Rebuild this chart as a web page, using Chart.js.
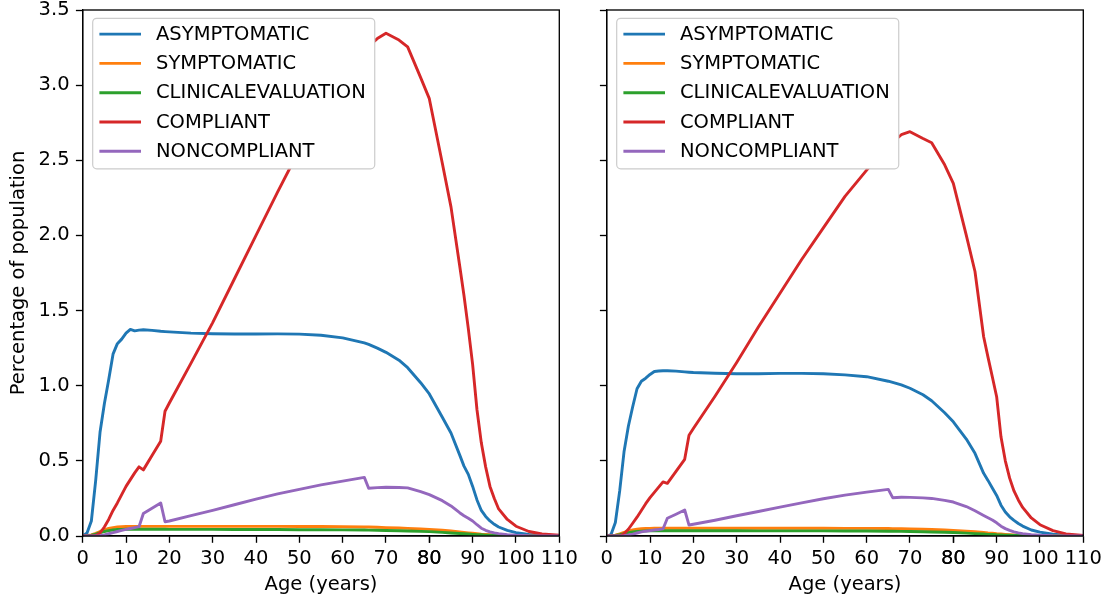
<!DOCTYPE html>
<html><head><meta charset="utf-8">
<script src="https://cdn.jsdelivr.net/npm/chart.js@4/dist/chart.umd.min.js"></script>
<style>
html,body{margin:0;padding:0;background:#fff;width:1107px;height:604px;overflow:hidden}
.c{position:absolute;top:0;height:604px}
#w1{left:0;width:585px}
#w2{left:585px;width:522px}
</style></head><body>
<div class="c" id="w1"><canvas id="c1" width="585" height="604"></canvas></div>
<div class="c" id="w2"><canvas id="c2" width="522" height="604"></canvas></div>
<script>
// ---- data ----
const ages = [0,1,2,3,4,5,6,7,8,9,10,11,12,13,14, 16,18,19,20, 25,30,35,40,45,50,55,60,65,
  66,68,70,73,75,78,80,83,85, 87,88,89,90,91,92,93,94,95,96, 98,100,103,106,110];
const seriesNames = ['ASYMPTOMATIC','SYMPTOMATIC','CLINICALEVALUATION','COMPLIANT','NONCOMPLIANT'];
const seriesColors = ['#1f77b4','#ff7f0e','#2ca02c','#d62728','#9467bd'];
const xTicks = [0,10,20,30,40,50,60,70,80,90,100,110];
const xTicksRepeated = [80];
const yTicks = [0,0.5,1.0,1.5,2.0,2.5,3.0,3.5];
const xLabel = 'Age (years)';
const yLabel = 'Percentage of population';

const leftAsym = [0,0.02,0.1,0.37,0.69,0.88,1.04,1.21,1.28,1.31,1.35,1.375,1.365,1.37,1.372,
  1.368,1.362,1.36,1.358, 1.35,1.346,1.344,1.344,1.345,1.343,1.336,1.318,1.285,
  1.275,1.25,1.222,1.17,1.12,1.02,0.945,0.79,0.685, 0.54,0.465,0.41,0.33,0.24,0.17,0.13,0.1,0.078,0.06,
  0.037,0.022,0.01,0.004,0];
const leftSymp = [0,0.002,0.008,0.018,0.03,0.04,0.05,0.056,0.06,0.062,0.063,0.064,0.064,0.064,0.064,
  0.064,0.064,0.064,0.064, 0.064,0.064,0.064,0.064,0.064,0.063,0.063,0.062,0.06,
  0.06,0.058,0.056,0.053,0.051,0.047,0.044,0.038,0.033, 0.027,0.024,0.021,0.018,0.015,0.012,0.01,0.008,0.006,0.004,
  0.002,0.001,0,0,0];
const leftClin = [0,0.002,0.006,0.013,0.022,0.03,0.036,0.04,0.043,0.044,0.045,0.045,0.045,0.045,0.045,
  0.045,0.045,0.045,0.044, 0.044,0.044,0.043,0.043,0.043,0.042,0.042,0.041,0.04,
  0.039,0.038,0.037,0.035,0.033,0.031,0.029,0.024,0.02, 0.017,0.015,0.013,0.011,0.009,0.008,0.006,0.005,0.004,0.003,
  0.002,0.001,0,0,0];
const leftComp = [0,0,0,0.003,0.02,0.06,0.11,0.17,0.22,0.275,0.33,0.375,0.42,0.46,0.44,
  0.535,0.63,0.83,0.885, 1.15,1.42,1.71,2.0,2.29,2.57,2.83,3.05,3.23,
  3.26,3.31,3.345,3.3,3.255,3.05,2.91,2.48,2.19, 1.8,1.6,1.38,1.14,0.84,0.62,0.46,0.33,0.25,0.18,
  0.11,0.065,0.03,0.013,0.005];
const leftNon = [0,0,0,0,0.002,0.008,0.015,0.022,0.03,0.037,0.044,0.05,0.056,0.062,0.15,
  0.185,0.22,0.095,0.1, 0.135,0.17,0.208,0.245,0.28,0.31,0.34,0.365,0.39,
  0.318,0.322,0.324,0.323,0.32,0.295,0.275,0.235,0.2, 0.155,0.135,0.118,0.1,0.075,0.052,0.038,0.028,0.021,0.016,
  0.009,0.005,0.002,0.001,0];

const rightAsym = [0,0.01,0.09,0.3,0.56,0.73,0.86,0.98,1.03,1.05,1.075,1.095,1.098,1.1,1.1,
  1.097,1.092,1.09,1.088, 1.083,1.08,1.08,1.082,1.082,1.08,1.072,1.06,1.03,
  1.022,1.005,0.983,0.94,0.9,0.82,0.76,0.645,0.55, 0.417,0.37,0.32,0.27,0.205,0.16,0.128,0.104,0.083,0.066,
  0.04,0.026,0.012,0.005,0];
const rightSymp = [0,0.001,0.006,0.014,0.024,0.033,0.04,0.045,0.048,0.05,0.051,0.052,0.052,0.052,0.052,
  0.052,0.052,0.052,0.052, 0.052,0.052,0.052,0.052,0.052,0.052,0.051,0.051,0.05,
  0.049,0.048,0.047,0.045,0.043,0.04,0.037,0.032,0.028, 0.023,0.02,0.018,0.015,0.013,0.011,0.009,0.007,0.005,0.004,
  0.002,0.001,0,0,0];
const rightClin = [0,0.001,0.004,0.009,0.016,0.022,0.027,0.03,0.032,0.034,0.035,0.035,0.035,0.035,0.035,
  0.035,0.035,0.035,0.035, 0.035,0.035,0.034,0.034,0.034,0.034,0.033,0.033,0.032,
  0.032,0.031,0.03,0.028,0.027,0.025,0.023,0.019,0.016, 0.013,0.011,0.01,0.008,0.007,0.006,0.005,0.004,0.003,0.002,
  0.001,0.001,0,0,0];
const rightComp = [0,0,0,0,0.015,0.045,0.085,0.125,0.17,0.215,0.255,0.29,0.325,0.36,0.35,
  0.43,0.51,0.67,0.715, 0.93,1.155,1.39,1.615,1.84,2.05,2.26,2.435,2.595,
  2.62,2.67,2.69,2.645,2.617,2.47,2.347,2.0,1.76, 1.326,1.19,1.06,0.927,0.66,0.5,0.385,0.3,0.24,0.19,
  0.12,0.075,0.036,0.014,0.003];
const rightNon = [0,0,0,0,0.002,0.007,0.013,0.02,0.027,0.032,0.036,0.04,0.043,0.047,0.118,
  0.145,0.173,0.073,0.078, 0.105,0.135,0.163,0.192,0.22,0.248,0.272,0.292,0.31,
  0.255,0.258,0.257,0.254,0.25,0.237,0.226,0.196,0.168, 0.137,0.122,0.107,0.088,0.065,0.049,0.037,0.028,0.021,0.016,
  0.009,0.005,0.002,0.001,0];

// ---- styling ----
const FONT = 'DejaVu Sans';
const FS = 19.5;
const LW = 2.9;
const AX_LW = 1.33;
const TICK_LEN = 6.8;

function makeDatasets(series) {
  return series.map((vals, i) => ({
    label: seriesNames[i],
    data: ages.map((a, k) => ({x: a, y: vals[k]})),
    borderColor: seriesColors[i],
    backgroundColor: seriesColors[i],
    borderWidth: LW,
    borderJoinStyle: 'round',
    pointRadius: 0,
    fill: false,
    tension: 0,
    order: series.length - i
  }));
}

const framePlugin = {
  id: 'frame',
  afterDatasetsDraw(chart) {
    const {ctx, chartArea: a} = chart;
    ctx.save();
    ctx.strokeStyle = '#000';
    ctx.lineWidth = AX_LW;
    ctx.strokeRect(a.left, a.top, a.right - a.left, a.bottom - a.top);
    ctx.restore();
  }
};

const legendPlugin = {
  id: 'mplLegend',
  afterDraw(chart) {
    const {ctx, chartArea: a} = chart;
    ctx.save();
    ctx.font = FS + 'px "' + FONT + '"';
    const ds = chart.data.datasets;
    let maxW = 0;
    ds.forEach(d => { maxW = Math.max(maxW, ctx.measureText(d.label).width); });
    const x0 = a.left + 10, y0 = a.top + 8.3;
    const w = 63.3 + maxW + 9, h = 150.5, r = 4;
    ctx.beginPath();
    ctx.moveTo(x0 + r, y0);
    ctx.arcTo(x0 + w, y0, x0 + w, y0 + h, r);
    ctx.arcTo(x0 + w, y0 + h, x0, y0 + h, r);
    ctx.arcTo(x0, y0 + h, x0, y0, r);
    ctx.arcTo(x0, y0, x0 + w, y0, r);
    ctx.closePath();
    ctx.fillStyle = '#ffffff';
    ctx.fill();
    ctx.strokeStyle = '#cccccc';
    ctx.lineWidth = 1.2;
    ctx.stroke();
    ds.forEach((d, i) => {
      const cy = y0 + 15.8 + i * 29.3;
      ctx.strokeStyle = d.borderColor;
      ctx.lineWidth = LW;
      ctx.lineCap = 'butt';
      ctx.beginPath();
      ctx.moveTo(x0 + 6.7, cy);
      ctx.lineTo(x0 + 48.3, cy);
      ctx.stroke();
      ctx.fillStyle = '#000';
      ctx.textBaseline = 'middle';
      ctx.textAlign = 'left';
      ctx.fillText(d.label, x0 + 63.3, cy + 0.5);
    });
    ctx.restore();
  }
};

function makeChart(canvasId, series, showYLabels, yAxisWidth, padRight) {
  return new Chart(document.getElementById(canvasId), {
    type: 'line',
    data: {datasets: makeDatasets(series)},
    plugins: [framePlugin, legendPlugin],
    options: {
      responsive: false,
      animation: false,
      devicePixelRatio: 1,
      layout: {padding: {left: 0, top: 10, right: padRight, bottom: 0}},
      plugins: {legend: {display: false}, tooltip: {enabled: false}},
      scales: {
        x: {
          type: 'linear', min: 0, max: 110,
          afterBuildTicks: s => { s.ticks = xTicks.concat(xTicksRepeated).map(v => ({value: v})); },
          afterFit: s => { s.height = 68; s.paddingLeft = 0; s.paddingRight = 0; },
          grid: {display: true, drawOnChartArea: false, drawTicks: true, tickLength: TICK_LEN, tickWidth: AX_LW, tickColor: '#000'},
          border: {display: true, color: '#000', width: AX_LW},
          ticks: {autoSkip: false, maxRotation: 0, padding: 4.5, color: '#000', font: {family: FONT, size: FS},
                  callback: v => String(v)},
          title: {display: true, text: xLabel, color: '#000', font: {family: FONT, size: FS}, padding: {top: 0, bottom: 7.5}}
        },
        y: {
          type: 'linear', min: 0, max: 3.5,
          afterBuildTicks: s => { s.ticks = yTicks.map(v => ({value: v})); },
          afterFit: s => { s.width = yAxisWidth; s.paddingTop = 0; s.paddingBottom = 0; },
          grid: {display: true, drawOnChartArea: false, drawTicks: true, tickLength: TICK_LEN, tickWidth: AX_LW, tickColor: '#000'},
          border: {display: true, color: '#000', width: AX_LW},
          ticks: {display: showYLabels, autoSkip: false, padding: 6.3, color: '#000', font: {family: FONT, size: FS},
                  callback: v => Number(v).toFixed(1)},
          title: {display: showYLabels, text: yLabel, color: '#000', font: {family: FONT, size: FS}, padding: {top: 7.5, bottom: 0}}
        }
      }
    }
  });
}

makeChart('c1', [leftAsym, leftSymp, leftClin, leftComp, leftNon], true, 82.7, 25.7);
makeChart('c2', [rightAsym, rightSymp, rightClin, rightComp, rightNon], false, 21.7, 23.7);
</script>
</body></html>
